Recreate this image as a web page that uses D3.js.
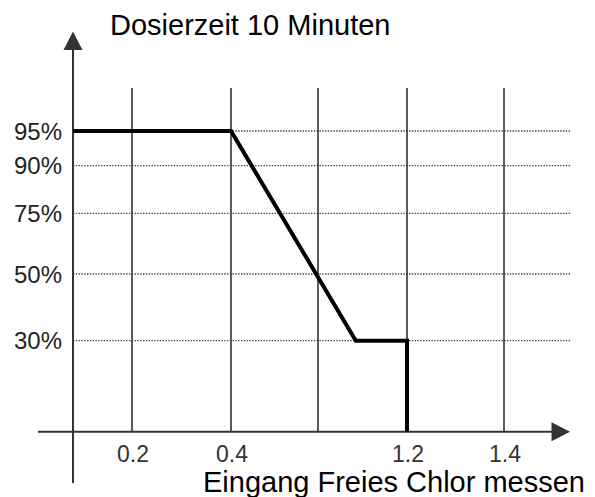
<!DOCTYPE html>
<html>
<head>
<meta charset="utf-8">
<script src="https://cdn.jsdelivr.net/npm/d3@7"></script>
<style>
  html, body { margin: 0; padding: 0; background: #fff; }
  svg { display: block; }
  svg text { font-family: "Liberation Sans", Arial, Helvetica, sans-serif; }
</style>
</head>
<body>
<svg id="chart" width="595" height="497"></svg>
<script>
// ---- data ----
const title = "Dosierzeit 10 Minuten";
const xTitle = "Eingang Freies Chlor messen";
// schematic (non-uniform) axis breakpoints
const xBreaks = [0, 0.2, 0.4, 0.8, 1.2, 1.4];
const yBreaks = [0, 30, 50, 75, 90, 95];
// vertical gridlines and which ones carry a label
const xGrid = [0.2, 0.4, 0.8, 1.2, 1.4];
const xTickLabels = ["0.2", "0.4", "", "1.2", "1.4"];
// horizontal dotted reference lines
const yGrid = [95, 90, 75, 50, 30];
const yTickLabels = ["95%", "90%", "75%", "50%", "30%"];
// characteristic curve
const curveX = [0, 0.4, 0.97, 1.2, 1.2];
const curveY = [95, 95, 30, 30, 0];

// ---- layout ----
const svg = d3.select("#chart");
const x = d3.scaleLinear().domain(xBreaks).range([73, 132, 231, 318, 407, 504]);
const y = d3.scaleLinear().domain(yBreaks).range([431.7, 340.7, 274, 213.3, 165.7, 131]);

const axisColor = "#333";
const gridTop = 88;
const axisY = y(0);
const axisX = x(0);
const FONT = "'Liberation Sans', Arial, Helvetica, sans-serif";

// horizontal dotted lines
svg.append("g").selectAll("line").data(yGrid).join("line")
  .attr("x1", axisX).attr("x2", 571)
  .attr("y1", d => y(d)).attr("y2", d => y(d))
  .attr("stroke", "#444").attr("stroke-width", 1.3)
  .attr("stroke-dasharray", "1.4,1.4");

// vertical gridlines
svg.append("g").selectAll("line").data(xGrid).join("line")
  .attr("x1", d => x(d)).attr("x2", d => x(d))
  .attr("y1", gridTop).attr("y2", axisY)
  .attr("stroke", axisColor).attr("stroke-width", 1.6);

// y axis
svg.append("line").attr("x1", axisX).attr("x2", axisX)
  .attr("y1", 48).attr("y2", 483)
  .attr("stroke", axisColor).attr("stroke-width", 2);
svg.append("path")
  .attr("d", `M${axisX},31.5 L${axisX - 9.5},50 L${axisX + 9.5},50 Z`)
  .attr("fill", axisColor);

// x axis
svg.append("line").attr("x1", 38).attr("x2", 554)
  .attr("y1", axisY).attr("y2", axisY)
  .attr("stroke", axisColor).attr("stroke-width", 2);
svg.append("path")
  .attr("d", `M570,${axisY} L551.5,${axisY - 9.5} L551.5,${axisY + 9.5} Z`)
  .attr("fill", axisColor);

// curve
const line = d3.line().x(d => x(d[0])).y(d => y(d[1]));
svg.append("path")
  .datum(curveX.map((v, i) => [v, curveY[i]]))
  .attr("d", line)
  .attr("fill", "none").attr("stroke", "#000")
  .attr("stroke-width", 4).attr("stroke-linejoin", "miter");

// y labels
svg.append("g").selectAll("text").data(yGrid).join("text")
  .attr("x", 62).attr("y", d => y(d) + 8.6)
  .attr("text-anchor", "end")
  .attr("font-family", FONT)
  .attr("font-size", 24).attr("fill", "#222")
  .text((d, i) => yTickLabels[i]);

// x labels
svg.append("g").selectAll("text").data(xGrid).join("text")
  .attr("x", d => x(d) + 1).attr("y", 462)
  .attr("text-anchor", "middle")
  .attr("font-family", FONT)
  .attr("font-size", 23).attr("fill", "#333")
  .text((d, i) => xTickLabels[i]);

// titles
svg.append("text").attr("x", 110).attr("y", 35)
  .attr("font-family", FONT)
  .attr("font-size", 29).attr("fill", "#000").text(title);
svg.append("text").attr("x", 585).attr("y", 491.5)
  .attr("text-anchor", "end")
  .attr("font-family", FONT)
  .attr("font-size", 29).attr("fill", "#000").text(xTitle);
</script>
</body>
</html>
